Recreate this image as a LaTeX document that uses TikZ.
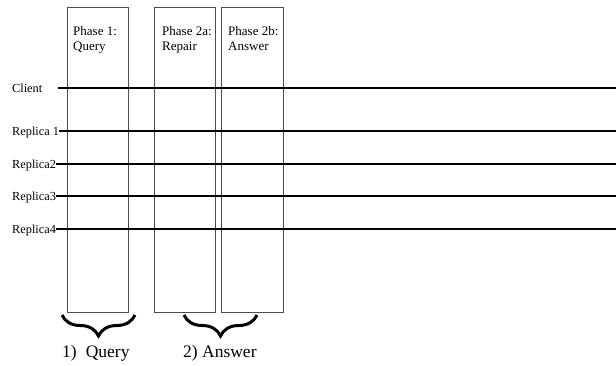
\documentclass[tikz,border=0pt]{standalone}
\usepackage{fontspec}
\setmainfont{Liberation Serif}
\usepackage{tikz}
\usetikzlibrary{decorations.pathreplacing,calc}
\tikzstyle{phase} = [draw=black!70, line width=0.8pt, minimum width=61pt, minimum height=305pt, inner sep=0pt, anchor=north west]
\tikzstyle{phasetext} = [anchor=north west, inner sep=0pt, align=left, font=\fontsize{13}{15}\selectfont]
\tikzstyle{actor} = [anchor=base west, inner sep=0pt, font=\fontsize{12.3}{14}\selectfont]
\tikzstyle{timeline} = [line width=1.8pt]
\tikzstyle{stage} = [decorate, decoration={brace, mirror, amplitude=21pt}, line width=3pt]
\tikzstyle{stagetext} = [anchor=base west, inner sep=0pt, font=\fontsize{17.5}{20}\selectfont]

\begin{document}
\begin{tikzpicture}[x=1pt,y=-1pt]
\useasboundingbox (0,0) rectangle (616,365);

    \node[phase] (query) at (67,7) {};
    \node[phase] (repair) at (154,7) {};
    \node[phase, minimum width=62pt] (answer) at (221,7) {};

    \node[phasetext] (queryt) at ($(query.north west)+(6,19)$) {Phase 1:\\Query};
    \node[phasetext] (repairt) at ($(repair.north west)+(8,19)$) {Phase 2a:\\Repair};
    \node[phasetext] (answert) at ($(answer.north west)+(7,19)$) {Phase 2b:\\Answer};

    \coordinate (start) at (58,0);
    \coordinate (stop) at (616,0);
    \node[actor] (client) at (12,92) {Client};
    \node[actor] (rep1) at (12,135) {Replica 1};
    \node[actor] (rep2) at (12,168) {Replica2};
    \node[actor] (rep3) at (12,200) {Replica3};
    \node[actor] (rep4) at (12,233) {Replica4};

    \draw[timeline] ($(client.base west -| start)+(0,-4)$) -- ($(client.base west -| stop)+(0,-4)$);
    \foreach \n in {rep1,rep2,rep3,rep4}
        \draw[timeline] ($(\n.base east)+(0,-4)$) -- ($(\n.base east -| stop)+(0,-4)$);

    \coordinate (b1l) at (62,315);
    \coordinate (b1r) at (135,315);
    \coordinate (b2l) at (184,315);
    \coordinate (b2r) at (257,315);
    \draw[stage] (b1l) -- (b1r);
    \draw[stage] (b2l) -- (b2r);

    \node[stagetext] (first) at (62,357) {1)\hspace{9pt}Query};
    \node[stagetext] (second) at (183,357) {2) Answer};
\end{tikzpicture}
\end{document}
